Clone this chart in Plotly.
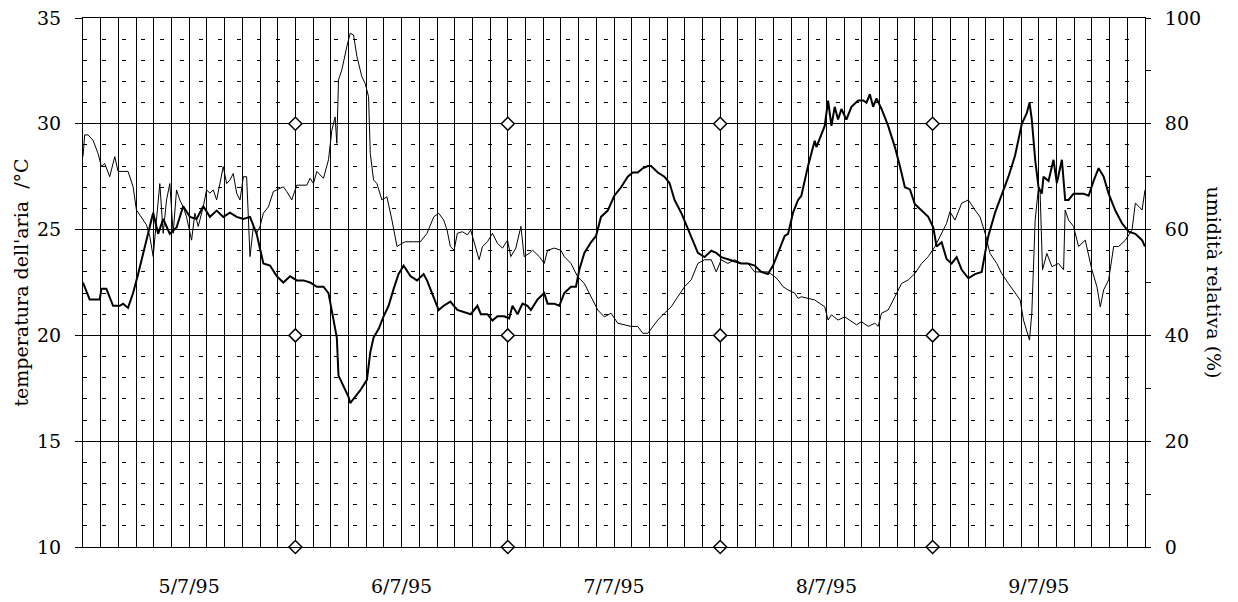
import pandas as pd
import plotly.graph_objs as go

# hours after 5/7/95 00:00
temp_hours = [
    0.0, 0.75, 1.89, 2.08, 2.64, 3.02, 3.40, 4.15, 4.53, 5.09, 5.66, 6.23, 6.79, 7.36, 7.93, 8.49,
    9.06, 9.81, 10.57, 11.32, 12.08, 12.83, 13.59, 14.34, 15.10, 15.85, 16.61, 17.36, 18.12, 18.87,
    19.62, 20.38, 21.13, 21.89, 22.64, 23.40, 24.15, 24.91, 25.66, 26.42, 27.17, 27.74, 28.12, 28.68,
    28.87, 29.44, 30.00, 30.19, 30.76, 31.32, 32.08, 32.46, 32.83, 33.40, 33.97, 34.53, 35.10, 35.66,
    36.23, 36.99, 37.74, 38.49, 38.87, 39.63, 40.19, 40.76, 41.51, 42.30, 43.06, 43.81, 44.57, 44.95,
    45.70, 46.27, 46.83, 47.59, 48.15, 48.53, 49.10, 49.66, 50.23, 50.61, 51.36, 52.12, 52.49, 53.25,
    53.82, 54.38, 55.14, 55.70, 56.08, 56.65, 57.40, 57.97, 58.53, 59.29, 60.04, 60.80, 61.55, 62.12,
    62.68, 63.25, 63.82, 64.19, 64.95, 65.70, 66.27, 66.84, 67.59, 68.35, 68.91, 69.48, 70.23, 70.99,
    71.55, 72.12, 72.87, 73.63, 74.38, 75.14, 75.89, 76.65, 77.40, 77.97, 78.54, 79.29, 79.67, 80.23,
    80.80, 81.17, 81.92, 82.68, 82.87, 83.43, 83.81, 84.19, 84.57, 84.94, 85.32, 85.70, 86.26, 86.83,
    87.59, 88.15, 88.53, 88.91, 89.28, 89.66, 90.23, 90.98, 91.74, 92.30, 92.87, 93.44, 94.00, 94.76,
    95.51, 96.08, 96.45, 97.02, 97.59, 98.15, 98.72, 99.29, 100.04, 100.79, 101.55, 101.93, 102.30,
    103.06, 103.81, 104.57, 105.32, 106.08, 106.64, 106.95, 107.21, 107.59, 107.97, 108.34, 108.53,
    109.10, 109.66, 110.04, 110.61, 110.98, 111.36, 111.93, 112.49, 113.06, 113.63, 114.19, 114.76,
    115.33, 115.89, 116.65, 117.40, 118.16, 118.91, 119.67, 120.0,
]
temp_values = [
    22.5, 21.7, 21.7, 22.2, 22.2, 21.8, 21.4, 21.4, 21.5, 21.3, 22.0, 22.9, 23.9, 24.8, 25.8, 24.8,
    25.5, 24.8, 25.1, 26.1, 25.6, 25.5, 26.1, 25.6, 25.9, 25.6, 25.8, 25.6, 25.5, 25.6,
    24.8, 23.4, 23.3, 22.8, 22.5, 22.8, 22.6, 22.6, 22.5, 22.3, 22.3, 22.0, 21.2, 19.9,
    18.1, 17.6, 17.1, 16.8, 17.1, 17.4, 17.9, 19.2, 19.9, 20.3, 20.9, 21.4, 22.2, 22.9,
    23.3, 22.8, 22.6, 22.9, 22.6, 21.8, 21.2, 21.4, 21.6, 21.2, 21.1, 21.0, 21.4, 21.0,
    21.0, 20.7, 20.9, 20.9, 20.8, 21.4, 21.0, 21.5, 21.4, 21.2, 21.7, 22.0, 21.5, 21.5,
    21.4, 22.0, 22.3, 22.3, 23.1, 23.9, 24.4, 24.7, 25.6, 25.9, 26.6, 27.0, 27.5, 27.7,
    27.7, 27.9, 28.0, 28.0, 27.7, 27.5, 27.2, 26.4, 25.8, 25.0, 24.5, 23.9, 23.7, 24.0,
    23.9, 23.7, 23.6, 23.5, 23.4, 23.4, 23.3, 23.0, 22.9, 23.3, 23.9, 24.7, 24.8, 25.8,
    26.4, 26.6, 28.0, 29.2, 28.9, 29.5, 29.9, 31.1, 29.9, 30.8, 30.2, 30.7, 30.2, 30.8,
    31.1, 31.1, 31.0, 31.4, 30.8, 31.2, 30.7, 29.9, 28.9, 28.0, 27.0, 26.9, 26.2, 25.9,
    25.6, 25.1, 24.2, 24.4, 23.6, 23.4, 23.7, 23.1, 22.7, 22.9, 23.0, 23.9, 24.7,
    25.8, 26.6, 27.5, 28.5, 30.0, 30.5, 31.0, 30.2, 28.3, 27.0, 26.7, 27.5,
    27.3, 28.3, 27.2, 28.3, 26.4, 26.4, 26.7, 26.7, 26.7, 26.6, 27.3, 27.9,
    27.5, 26.7, 25.9, 25.3, 24.9, 24.8, 24.5, 24.2,
]

hum_hours = [
    0.0, 0.19, 0.57, 1.13, 1.70, 2.08, 2.45, 3.02, 3.59, 3.96, 5.09, 5.66, 6.04, 6.60, 7.17, 7.55,
    7.93, 8.30, 8.68, 9.06, 9.44, 9.81, 10.19, 10.57, 10.94, 11.32, 11.70, 12.27, 12.64, 13.02,
    13.59, 13.96, 14.34, 14.72, 15.10, 15.85, 16.23, 16.61, 16.98, 17.36, 17.74, 18.12, 18.49,
    18.87, 19.25, 19.62, 20.00, 20.38, 20.95, 21.51, 22.64, 23.02, 23.59, 24.15, 25.29, 25.66,
    26.04, 26.42, 27.17, 27.74, 28.12, 28.49, 28.68, 28.87, 29.25, 29.81, 30.19, 30.57, 30.95,
    31.51, 31.89, 32.27, 32.46, 32.83, 33.21, 33.78, 34.34, 34.91, 35.48, 36.04, 36.42, 37.36,
    38.12, 38.87, 39.63, 40.19, 40.76, 41.14, 41.51, 41.93, 42.30, 42.87, 43.44, 43.81, 44.19,
    44.76, 45.14, 45.70, 46.27, 46.83, 47.40, 47.97, 48.34, 48.91, 49.48, 49.85, 50.42, 50.80,
    51.55, 52.12, 52.49, 53.25, 54.00, 54.38, 55.14, 55.89, 56.65, 57.40, 58.16, 58.91, 59.67,
    60.42, 61.18, 61.93, 62.68, 63.25, 63.82, 64.38, 64.95, 65.70, 66.46, 67.21, 67.97, 68.72,
    69.48, 70.23, 70.99, 71.55, 72.12, 72.87, 73.63, 74.38, 75.14, 75.89, 76.65, 77.40, 78.16,
    78.54, 79.10, 79.67, 80.42, 80.80, 81.17, 82.68, 83.81, 84.19, 84.57, 85.32, 86.08, 86.83,
    87.40, 87.96, 88.72, 89.47, 89.85, 90.23, 90.98, 91.74, 92.49, 93.25, 94.00, 94.76, 95.51,
    96.27, 97.02, 97.59, 97.96, 98.53, 99.29, 100.04, 100.79, 101.36, 101.93, 102.49, 103.25,
    103.81, 104.57, 105.32, 105.89, 106.27, 106.64, 106.95, 107.21, 107.59, 107.97, 108.15,
    108.42, 108.91, 109.48, 110.23, 110.80, 110.98, 111.36, 111.93, 112.49, 113.25, 114.00,
    114.57, 114.95, 115.33, 115.89, 116.46, 117.02, 117.78, 118.53, 118.91, 119.29, 119.67, 120.0,
]
hum_values = [
    73.8, 77.9, 77.9, 76.9, 74.4, 71.9, 72.5, 70.0, 73.8, 71.0, 71.0, 68.1, 63.7, 62.4, 60.9, 58.7,
    54.9, 61.8, 68.7, 59.3, 65.6, 68.7, 59.3, 67.5, 65.6, 64.3, 62.4, 58.0, 63.1, 60.6,
    64.3, 67.5, 66.9, 67.5, 65.6, 71.9, 68.7, 69.4, 70.6, 66.9, 65.6, 70.0, 70.0,
    54.9, 60.6, 59.3, 60.6, 63.1, 64.3, 67.2, 68.1, 67.2, 65.6, 68.4, 68.4, 69.7,
    68.7, 71.0, 69.7, 73.2, 78.8, 81.3, 76.3, 88.3, 90.2, 94.6, 97.1, 96.8, 92.7,
    88.9, 87.6, 85.1, 74.4, 69.4, 68.7, 65.6, 66.2, 61.8, 56.8, 57.4, 57.7, 57.7,
    57.7, 59.3, 62.4, 63.1, 61.8, 59.9, 56.8, 56.1, 59.3, 59.6, 59.0, 59.9, 57.7,
    54.3, 56.8, 57.7, 59.3, 57.4, 56.5, 58.0, 54.9, 56.5, 60.6, 54.9, 55.5, 56.1,
    54.9, 53.6, 56.1, 56.5, 56.1, 54.9, 53.6, 51.1, 49.8, 47.3, 44.8, 43.5, 44.2,
    42.3, 42.0, 41.7, 41.7, 40.4, 40.4, 41.7, 42.9, 44.2, 45.4, 47.3, 49.2, 50.5,
    53.6, 54.3, 54.3, 52.0, 54.3, 53.6, 54.3, 53.6, 53.6, 52.0, 52.0, 52.0, 51.1,
    50.5, 49.2, 48.6, 48.0, 47.0, 47.3, 46.7, 45.4, 42.9, 43.9, 42.9, 43.5, 42.6,
    42.0, 42.6, 41.7, 42.3, 41.7, 44.2, 44.8, 47.3, 49.8, 50.5, 51.7, 53.6, 54.9,
    56.8, 59.3, 61.2, 63.4, 61.8, 65.0, 65.6, 63.7, 62.4, 59.3, 55.5, 53.6,
    51.7, 49.8, 48.0, 46.7, 42.9, 41.0, 39.1, 44.2, 61.8, 68.1, 66.9,
    52.4, 55.5, 53.0, 53.6, 52.4, 63.7, 61.8, 60.6, 56.8, 58.0, 52.4,
    49.2, 45.4, 48.6, 50.5, 56.8, 56.8, 58.0, 59.9, 65.0, 64.4, 63.7, 67.5,
]

day_labels = ["5/7/95", "6/7/95", "7/7/95", "8/7/95", "9/7/95"]
marker_days = ["1995-07-06", "1995-07-07", "1995-07-08", "1995-07-09"]
marker_levels = [10, 20, 30]

start = pd.Timestamp("1995-07-05")
end = pd.Timestamp("1995-07-10")
serif = "DejaVu Serif"

temp_x = start + pd.to_timedelta(temp_hours, unit="h")
hum_x = start + pd.to_timedelta(hum_hours, unit="h")

# vertical grid every 2 hours, day label at noon
grid_times = pd.date_range(start, end, freq="2h")
grid_text = []
for t in grid_times:
    if t.hour == 12 and t < end:
        grid_text.append(day_labels[(t - start).days])
    else:
        grid_text.append("")

fig = go.Figure()
fig.add_trace(go.Scatter(x=hum_x, y=hum_values, yaxis="y2", mode="lines",
                         line=dict(color="black", width=1)))
fig.add_trace(go.Scatter(x=temp_x, y=temp_values, mode="lines",
                         line=dict(color="black", width=2)))

mx, my = [], []
for lev in marker_levels:
    for d in marker_days:
        mx.append(pd.Timestamp(d))
        my.append(lev)
fig.add_trace(go.Scatter(x=mx, y=my, mode="markers", cliponaxis=False,
                         marker=dict(symbol="diamond", size=10, color="white",
                                     line=dict(color="black", width=1.5))))

fig.update_xaxes(type="date", range=[start, end], tickmode="array",
                 tickvals=grid_times, ticktext=grid_text,
                 showgrid=True, gridcolor="black", gridwidth=1,
                 ticks="", showline=True, linecolor="black", mirror=True,
                 zeroline=False, ticklabelstandoff=22,
                 tickfont=dict(family=serif, size=19, color="black"))

# page body has an 8px margin, so the figure is a bit smaller than the window
fig.update_layout(
    width=1230, height=594,
    showlegend=False,
    template=None,
    paper_bgcolor="white",
    plot_bgcolor="white",
    margin=dict(l=75, r=93, t=10, b=55),
    font=dict(family=serif, color="black", size=19),
    yaxis=dict(range=[10, 35], tick0=10, dtick=5, showgrid=True,
               gridcolor="black", gridwidth=1, zeroline=False,
               ticks="outside", ticklen=7, tickcolor="black",
               showline=True, linecolor="black", ticklabelstandoff=10,
               ticklabeloverflow="allow",
               tickfont=dict(family=serif, size=19, color="black"),
               minor=dict(dtick=1, tick0=10, showgrid=True, gridcolor="black",
                          gridwidth=1, griddash="4px,15.3px", ticks="")),
    yaxis2=dict(range=[0, 100], tick0=0, dtick=20, overlaying="y", side="right",
                showgrid=False, zeroline=False, ticks="outside", ticklen=5,
                tickcolor="black", showline=True, linecolor="black",
                ticklabelstandoff=10, ticklabeloverflow="allow",
                tickfont=dict(family=serif, size=19, color="black"),
                minor=dict(dtick=10, tick0=0, ticks="outside", ticklen=5,
                           tickcolor="black", showgrid=False)),
    annotations=[
        dict(text="temperatura dell'aria  /°C", xref="paper", yref="paper",
             x=-0.0593, y=0.5, xanchor="center", yanchor="middle",
             textangle=-90, showarrow=False,
             font=dict(family=serif, size=19, color="black")),
        dict(text="umidità relativa (%)", xref="paper", yref="paper",
             x=1.0659, y=0.5, xanchor="center", yanchor="middle",
             textangle=90, showarrow=False,
             font=dict(family=serif, size=19, color="black")),
    ],
)

fig.write_html("out.html")
